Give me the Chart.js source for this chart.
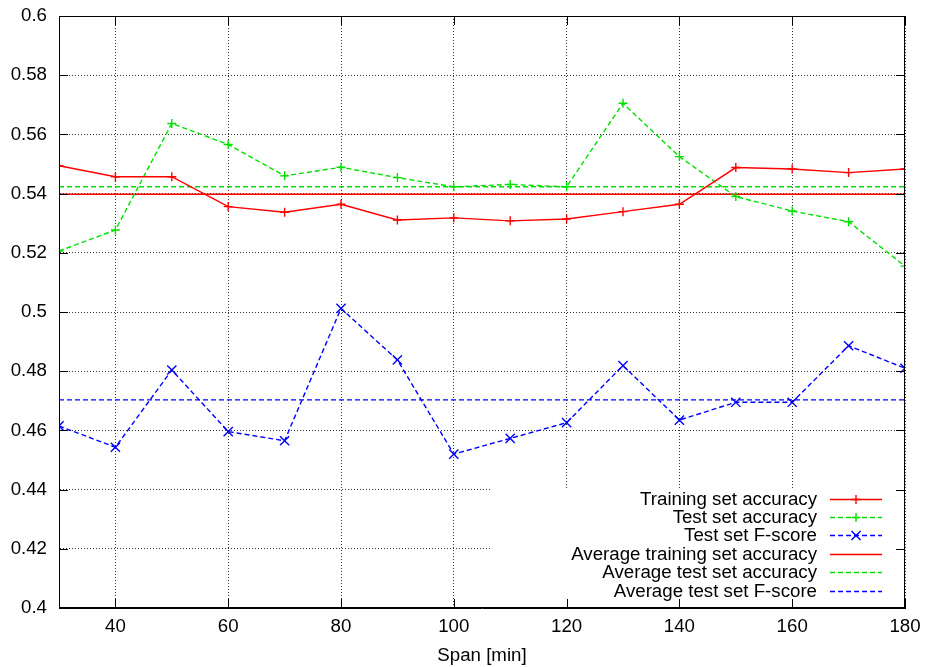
<!DOCTYPE html>
<html>
<head>
<meta charset="utf-8">
<script src="https://cdn.jsdelivr.net/npm/chart.js@4/dist/chart.umd.min.js"></script>
<style>
html, body { margin: 0; padding: 0; background: #fff; }
#wrap { width: 927px; height: 667px; }
</style>
</head>
<body>
<div id="wrap"><canvas id="chart" width="927" height="667"></canvas></div>
<script>
// Span values (minutes)
const spans = [30, 40, 50, 60, 70, 80, 90, 100, 110, 120, 130, 140, 150, 160, 170, 180];

// Series
const trainAcc = [0.5494, 0.5457, 0.5457, 0.5356, 0.5337, 0.5364, 0.5311, 0.5318,
                  0.5308, 0.5314, 0.5339, 0.5364, 0.5488, 0.5483, 0.5471, 0.5483];
const testAcc  = [0.5206, 0.5277, 0.5637, 0.5566, 0.5460, 0.5489, 0.5454, 0.5423,
                  0.5431, 0.5423, 0.5705, 0.5525, 0.5390, 0.5341, 0.5305, 0.5155];
const testF    = [0.4615, 0.4543, 0.4804, 0.4596, 0.4565, 0.5012, 0.4838, 0.4520,
                  0.4573, 0.4626, 0.4819, 0.4635, 0.4695, 0.4695, 0.4886, 0.4810];

// Averages (horizontal lines)
const avgTrainAcc = 0.5398;
const avgTestAcc = 0.5423;
const avgTestF = 0.4703;

// Tick labels
const xTicks = [40, 60, 80, 100, 120, 140, 160, 180];
const yTicks = [0.4, 0.42, 0.44, 0.46, 0.48, 0.5, 0.52, 0.54, 0.56, 0.58, 0.6];

const RED = '#ff0000';
const GREEN = '#00e000';
const BLUE = '#0000ff';
const DASH = [5, 3];
const FONT = { family: "'Liberation Sans', Arial, sans-serif", size: 18.7 };

const toPoints = values => spans.map((s, i) => ({ x: s, y: values[i] }));
const flat = value => spans.map(s => ({ x: s, y: value }));

/**
 * Gnuplot style frame: full box, inward ticks, opaque key in the lower right
 */
const gnuplotFrame = {
    id: 'gnuplotFrame',
    beforeDatasetsDraw(chart) {
        const { ctx, chartArea: a } = chart;
        ctx.save();
        ctx.fillStyle = '#fff';
        ctx.fillRect(a.right - 415, a.bottom - 120, 414, 119);
        ctx.restore();
    },
    afterDraw(chart) {
        const { ctx, chartArea: a } = chart;
        const xs = chart.scales.x;
        const ys = chart.scales.y;
        ctx.save();
        ctx.strokeStyle = '#000';
        ctx.lineWidth = 1;

        // frame
        ctx.strokeRect(a.left + 0.5, a.top + 0.5, a.right - a.left - 1, a.bottom - a.top - 1);

        // inward ticks on all four sides
        ctx.beginPath();
        xTicks.forEach(v => {
            const px = Math.round(xs.getPixelForValue(v)) + 0.5;
            ctx.moveTo(px, a.bottom); ctx.lineTo(px, a.bottom - 9);
            ctx.moveTo(px, a.top); ctx.lineTo(px, a.top + 9);
        });
        yTicks.forEach(v => {
            const py = Math.round(ys.getPixelForValue(v)) + 0.5;
            ctx.moveTo(a.left, py); ctx.lineTo(a.left + 9, py);
            ctx.moveTo(a.right, py); ctx.lineTo(a.right - 9, py);
        });
        ctx.stroke();

        // key
        ctx.font = `${FONT.size}px ${FONT.family}`;
        ctx.textAlign = 'right';
        ctx.textBaseline = 'middle';
        chart.data.datasets.forEach((ds, i) => {
            const y = Math.round(a.bottom - 109.5 + i * 18.4) + 0.5;
            ctx.fillStyle = '#000';
            ctx.fillText(ds.label, a.right - 88, y);

            ctx.strokeStyle = ds.borderColor;
            ctx.lineWidth = ds.borderWidth;
            ctx.setLineDash(ds.borderDash || []);
            ctx.beginPath();
            ctx.moveTo(a.right - 75, y);
            ctx.lineTo(a.right - 23, y);
            ctx.stroke();
            ctx.setLineDash([]);

            if (ds.pointRadius > 0) {
                Chart.helpers.drawPoint(ctx, {
                    pointStyle: ds.pointStyle,
                    radius: ds.pointRadius,
                    rotation: 0,
                    borderWidth: ds.pointBorderWidth
                }, a.right - 49, y);
            }
        });
        ctx.restore();
    }
};

new Chart(document.getElementById('chart'), {
    type: 'line',
    data: {
        datasets: [
            {
                label: 'Training set accuracy',
                data: toPoints(trainAcc),
                borderColor: RED,
                borderWidth: 1.4,
                pointStyle: 'cross',
                pointRadius: 4.5,
                pointBorderColor: RED,
                pointBorderWidth: 1.4,
                tension: 0
            },
            {
                label: 'Test set accuracy',
                data: toPoints(testAcc),
                borderColor: GREEN,
                borderWidth: 1.4,
                borderDash: DASH,
                pointStyle: 'cross',
                pointRadius: 4.5,
                pointBorderColor: GREEN,
                pointBorderWidth: 1.4,
                tension: 0
            },
            {
                label: 'Test set F-score',
                data: toPoints(testF),
                borderColor: BLUE,
                borderWidth: 1.4,
                borderDash: DASH,
                pointStyle: 'crossRot',
                pointRadius: 6.5,
                pointBorderColor: BLUE,
                pointBorderWidth: 1.4,
                tension: 0
            },
            {
                label: 'Average training set accuracy',
                data: flat(avgTrainAcc),
                borderColor: RED,
                borderWidth: 1.4,
                pointRadius: 0
            },
            {
                label: 'Average test set accuracy',
                data: flat(avgTestAcc),
                borderColor: GREEN,
                borderWidth: 1.4,
                borderDash: DASH,
                pointRadius: 0
            },
            {
                label: 'Average test set F-score',
                data: flat(avgTestF),
                borderColor: BLUE,
                borderWidth: 1.4,
                borderDash: DASH,
                pointRadius: 0
            }
        ]
    },
    options: {
        responsive: false,
        animation: false,
        layout: { padding: { top: 16, right: 22, left: 0, bottom: 0 } },
        plugins: {
            legend: { display: false },
            tooltip: { enabled: false }
        },
        scales: {
            x: {
                type: 'linear',
                min: 30,
                max: 180,
                afterBuildTicks: scale => { scale.ticks = xTicks.map(v => ({ value: v })); },
                afterFit: scale => {
                    scale.height = 59;
                    scale.paddingLeft = 0;
                    scale.paddingRight = 0;
                },
                grid: { color: '#333', drawTicks: false },
                border: { color: '#000', width: 1, dash: [1, 2] },
                ticks: { color: '#000', font: FONT, padding: 8, maxRotation: 0 },
                title: {
                    display: true,
                    text: 'Span [min]',
                    color: '#000',
                    font: FONT,
                    padding: { top: 0, bottom: 0 }
                }
            },
            y: {
                type: 'linear',
                min: 0.4,
                max: 0.6,
                afterBuildTicks: scale => { scale.ticks = yTicks.map(v => ({ value: v })); },
                afterFit: scale => {
                    scale.width = 59;
                    scale.paddingTop = 0;
                    scale.paddingBottom = 0;
                },
                grid: { color: '#333', drawTicks: false },
                border: { color: '#000', width: 1, dash: [1, 2] },
                ticks: {
                    color: '#000',
                    font: FONT,
                    padding: 12,
                    callback: v => String(Math.round(v * 100) / 100)
                }
            }
        }
    },
    plugins: [gnuplotFrame]
});
</script>
</body>
</html>
